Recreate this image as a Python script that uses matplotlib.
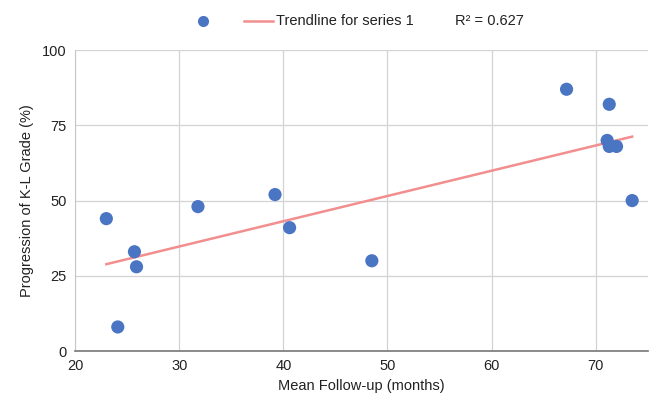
import numpy as np
import matplotlib.pyplot as plt
from matplotlib.lines import Line2D

plt.rcParams['font.family'] = ['Liberation Sans', 'DejaVu Sans']

# mean follow-up (months) vs progression of K-L grade (%)
follow_up = [23.0, 24.1, 25.7, 25.9, 31.8, 39.2, 40.6, 48.5, 67.2, 71.3, 71.1, 71.3, 72.0, 73.5]
progression = [44, 8, 33, 28, 48, 52, 41, 30, 87, 82, 70, 68, 68, 50]
x_ticks = [20, 30, 40, 50, 60, 70]
y_ticks = [0, 25, 50, 75, 100]
trend_label = "Trendline for series 1"
r2_label = "R\u00b2 = 0.627"

dot_color = "#4a75c2"
trend_color = "#f28e8e"

fig = plt.figure(figsize=(6.53, 3.98), dpi=100)
ax = fig.add_axes([0.115, 0.118, 0.877, 0.756])

x = np.array(follow_up)
y = np.array(progression)
slope, intercept = np.polyfit(x, y, 1)
xs = np.array([x.min(), x.max()])
ax.plot(xs, slope * xs + intercept, color=trend_color, lw=1.8, zorder=2)
ax.scatter(x, y, s=90, color=dot_color, edgecolors='none', zorder=3)

ax.set_xlim(20, 75)
ax.set_ylim(0, 100)
ax.set_xticks(x_ticks)
ax.set_yticks(y_ticks)
ax.grid(True, color="#d3d3d3", lw=0.9)
ax.set_axisbelow(True)
for s in ['top', 'right']:
    ax.spines[s].set_visible(False)
ax.spines['left'].set_color("#c8c8c8")
ax.spines['bottom'].set_color("#777777")
ax.spines['bottom'].set_linewidth(1.2)
ax.tick_params(length=0, labelsize=10.5, colors="#222222", pad=6)

ax.set_xlabel("Mean Follow-up (months)", fontsize=10.5, color="#222222", labelpad=4)
ax.set_ylabel("Progression of K-L Grade (%)", fontsize=10.5, color="#222222", labelpad=6)

# legend drawn by hand across the top
ly = 1 - 21 / 398
fig.add_artist(Line2D([203 / 653], [ly], marker='o', ms=8, color=dot_color, mec='none', ls='none',
                      transform=fig.transFigure))
fig.add_artist(Line2D([244 / 653, 273 / 653], [ly, ly], color=trend_color, lw=1.8,
                      transform=fig.transFigure))
fig.text(276 / 653, ly, trend_label, fontsize=10.5, va='center', color="#222222")
fig.text(455 / 653, ly, r2_label, fontsize=10.5, va='center', color="#222222")

fig.savefig("out.png", dpi=100)
